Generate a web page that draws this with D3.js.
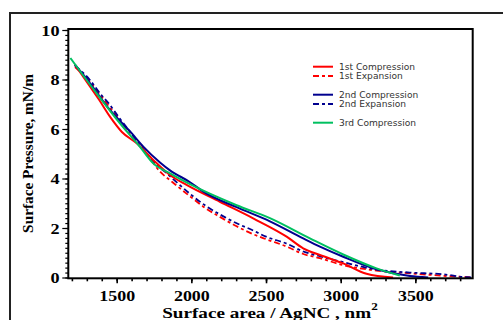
<!DOCTYPE html>
<html><head><meta charset="utf-8">
<script src="https://cdn.jsdelivr.net/npm/d3@7/dist/d3.min.js"></script>
<style>body{margin:0;background:#fff}svg{display:block}</style>
</head><body>
<svg id="c" width="503" height="320"></svg>
<script>
// ---- data ----
const comp1 = [[1220,8.6],[1300,7.9],[1380,7.2],[1455,6.5],[1535,5.88],[1634,5.42],[1745,4.75],[1857,4.14],[1968,3.74],[2191,3.06],[2414,2.39],[2638,1.65],[2749,1.18],[2861,0.91],[3017,0.57],[3173,0.15],[3351,0.0]];
const exp1  = [[1221,8.5],[1321,7.9],[1400,7.3],[1500,6.5],[1611,5.62],[1700,5.0],[1790,4.28],[1870,3.87],[1991,3.28],[2100,2.78],[2191,2.45],[2300,2.08],[2414,1.75],[2500,1.55],[2638,1.25],[2750,0.95],[2861,0.78],[3017,0.5],[3240,0.28],[3463,0.17],[3686,0.07],[3865,0.01]];
const comp2 = [[1220,8.6],[1300,8.02],[1455,6.77],[1600,5.83],[1678,5.29],[1790,4.65],[1857,4.33],[1991,3.85],[2080,3.47],[2303,2.84],[2526,2.27],[2749,1.58],[2861,1.25],[3017,0.84],[3240,0.33],[3463,0.06],[3586,0.0]];
const exp2  = [[1221,8.55],[1321,7.98],[1388,7.44],[1455,6.97],[1511,6.5],[1589,5.89],[1656,5.35],[1760,4.6],[1835,4.21],[1991,3.38],[2100,2.88],[2191,2.55],[2300,2.2],[2414,1.9],[2500,1.65],[2638,1.37],[2750,1.05],[2861,0.86],[3017,0.62],[3240,0.32],[3463,0.2],[3686,0.13],[3842,0.01],[3880,0.0]];
const comp3 = [[1190,8.87],[1366,7.44],[1522,6.23],[1656,5.28],[1745,4.61],[1860,4.2],[1991,3.77],[2303,2.92],[2526,2.4],[2794,1.58],[3017,0.93],[3240,0.37],[3396,0.08]];
const seriesNames = ["1st Compression","1st Expansion","2nd Compression","2nd Expansion","3rd Compression"];
const xMajor = [1500,2000,2500,3000,3500];
const yMajor = [0,2,4,6,8,10];
const xLabel = "Surface area / AgNC ,  nm";
const yLabel = "Surface Pressure, mN/m";

const series = [
  {name:seriesNames[0], data:comp1, color:"#ff0000", dash:null},
  {name:seriesNames[1], data:exp1,  color:"#ff0000", dash:"6,3,3,3"},
  {name:seriesNames[2], data:comp2, color:"#00008f", dash:null},
  {name:seriesNames[3], data:exp2,  color:"#00008f", dash:"6,3,3,3"},
  {name:seriesNames[4], data:comp3, color:"#00c060", dash:null}
];

const svg = d3.select("#c");
const L=68.3, R=472.7, T=29, B=278.3;
const x = d3.scaleLinear().domain([1176,3884]).range([L,R]);
const y = d3.scaleLinear().domain([0,10]).range([277.5,30]);

// outer frame
svg.append("rect").attr("x",10).attr("y",13).attr("width",520).attr("height",330)
  .attr("fill","none").attr("stroke","#222").attr("stroke-width",2);

// minor/major ticks
const xMinor = d3.range(1200,3801,100);
const yMinor = d3.range(0,10.001,0.2);
const gx = svg.append("g").attr("transform",`translate(0,${B})`);
gx.call(d3.axisBottom(x).tickValues(xMinor).tickSize(3).tickFormat(""));
gx.append("g").call(d3.axisBottom(x).tickValues(xMajor).tickSize(5).tickFormat(d3.format("d")));
gx.selectAll(".domain").remove();
gx.selectAll("line").attr("stroke","#000").attr("stroke-width",1.6);
gx.selectAll("text").attr("y",null).attr("dy",null).attr("transform","translate(0,23) scale(1.32,1)")
  .attr("font-family","Liberation Serif, Times New Roman, serif").attr("font-weight","bold")
  .attr("font-size",13.6).attr("fill","#000");

const gy = svg.append("g").attr("transform",`translate(${L},0)`);
gy.call(d3.axisLeft(y).tickValues(yMinor).tickSize(3).tickFormat(""));
gy.append("g").call(d3.axisLeft(y).tickValues(yMajor).tickSize(6).tickFormat(d3.format("d")));
gy.selectAll(".domain").remove();
gy.selectAll("line").attr("stroke","#000").attr("stroke-width",1.2);
gy.selectAll("text").attr("x",-6.8).attr("dy","0.36em").attr("transform","scale(1.3,1)")
  .attr("font-family","Liberation Serif, Times New Roman, serif").attr("font-weight","bold")
  .attr("font-size",14).attr("fill","#000");

// clip & lines
svg.append("clipPath").attr("id","clip").append("rect").attr("x",L).attr("y",T).attr("width",R-L).attr("height",B-T);
const line = d3.line().x(d=>x(d[0])).y(d=>y(d[1])).curve(d3.curveMonotoneX);
const lg = svg.append("g").attr("clip-path","url(#clip)");
[1,3,0,2,4].forEach(i=>{
  const s = series[i];
  lg.append("path").attr("d",line(s.data)).attr("fill","none").attr("stroke",s.color)
    .attr("stroke-width",s.dash?1.8:2).attr("stroke-dasharray",s.dash).attr("stroke-linejoin","round");
});

// plot frame
svg.append("rect").attr("x",L).attr("y",T).attr("width",R-L).attr("height",B-T)
  .attr("fill","none").attr("stroke","#000").attr("stroke-width",2);

// legend
const legY = [66.7,76,94.7,104,122.7];
const leg = svg.append("g");
series.forEach((s,i)=>{
  leg.append("line").attr("x1",313).attr("x2",333).attr("y1",legY[i]).attr("y2",legY[i])
    .attr("stroke",s.color).attr("stroke-width",2).attr("stroke-dasharray",s.dash?"6,3,3,3":null);
  leg.append("text").attr("x",339).attr("y",legY[i]+3.3).text(s.name)
    .attr("font-family","DejaVu Sans, Verdana, sans-serif").attr("font-size",9.1).attr("fill","#333");
});

// axis labels
const xl = svg.append("text").attr("transform",`translate(270,317.5) scale(1.26,1)`).attr("text-anchor","middle")
  .attr("font-family","Liberation Serif, Times New Roman, serif").attr("font-weight","bold").attr("font-size",15.2).attr("fill","#000");
xl.append("tspan").text(xLabel);
xl.append("tspan").attr("dy",-7.5).attr("font-size",10.5).text("2");

svg.append("text").attr("transform","translate(33,153.5) rotate(-90)").attr("text-anchor","middle")
  .attr("font-family","Liberation Serif, Times New Roman, serif").attr("font-weight","bold").attr("font-size",15.3).attr("fill","#000")
  .text(yLabel);
</script>
</body></html>
